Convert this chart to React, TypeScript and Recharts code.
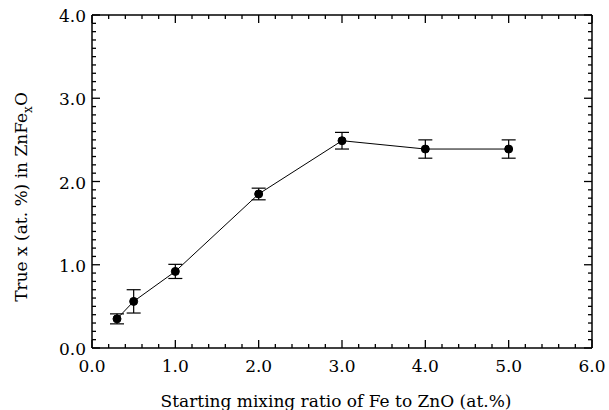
import React from 'react';
import { ComposedChart, Line, XAxis, YAxis, ErrorBar } from 'recharts';

// Data
const mixingRatio = [0.3, 0.5, 1.0, 2.0, 3.0, 4.0, 5.0];
const trueX = [0.35, 0.56, 0.92, 1.85, 2.49, 2.39, 2.39];
const trueXError = [0.06, 0.14, 0.085, 0.07, 0.1, 0.11, 0.11];

const xMajorLabels = ['0.0', '1.0', '2.0', '3.0', '4.0', '5.0', '6.0'];
const yMajorLabels = ['0.0', '1.0', '2.0', '3.0', '4.0'];

const xTicks = Array.from({ length: 31 }, (_, i) => Math.round(i * 2) / 10);
const yTicks = Array.from({ length: 41 }, (_, i) => i / 10);

const data = mixingRatio.map((x, i) => ({ x, y: trueX[i], err: trueXError[i] }));

const FONT = "'DejaVu Serif', 'Liberation Serif', serif";
const MAJOR = 8;
const MINOR = 4;

const isMajor = (v: number) => Math.abs(v - Math.round(v)) < 1e-6;

const textStyle = { fontFamily: FONT, fontSize: 17, fill: '#000' };

const BottomTick = (props: any) => {
  const { x, y, payload } = props;
  const v = payload.value;
  const major = isMajor(v);
  return (
    <g>
      <line x1={x} x2={x} y1={y} y2={y - (major ? MAJOR : MINOR)} stroke="#000" strokeWidth={1.3} />
      {major && (
        <text x={x} y={y + 24} textAnchor="middle" style={textStyle}>
          {xMajorLabels[Math.round(v)]}
        </text>
      )}
    </g>
  );
};

const TopTick = (props: any) => {
  const { x, y, payload } = props;
  const major = isMajor(payload.value);
  return <line x1={x} x2={x} y1={y} y2={y + (major ? MAJOR : MINOR)} stroke="#000" strokeWidth={1.3} />;
};

const LeftTick = (props: any) => {
  const { x, y, payload } = props;
  const v = payload.value;
  const major = isMajor(v);
  return (
    <g>
      <line x1={x} x2={x + (major ? MAJOR : MINOR)} y1={y} y2={y} stroke="#000" strokeWidth={1.3} />
      {major && (
        <text x={x - 6} y={y + 7} textAnchor="end" style={textStyle}>
          {yMajorLabels[Math.round(v)]}
        </text>
      )}
    </g>
  );
};

const RightTick = (props: any) => {
  const { x, y, payload } = props;
  const major = isMajor(payload.value);
  return <line x1={x} x2={x - (major ? MAJOR : MINOR)} y1={y} y2={y} stroke="#000" strokeWidth={1.3} />;
};

const XLabel = () => (
  <text x={336} y={407} textAnchor="middle" style={textStyle}>
    Starting mixing ratio of Fe to ZnO (at.%)
  </text>
);

const YLabel = () => (
  <text x={-197} y={27} transform="rotate(-90)" textAnchor="middle" style={textStyle}>
    True x (at. %) in ZnFe
    <tspan dy={5} fontSize={12}>x</tspan>
    <tspan dy={-5}>O</tspan>
  </text>
);

export default function App() {
  return (
    <div style={{ position: 'absolute', left: 0, top: 0, background: '#fff' }}>
      <ComposedChart
        width={609}
        height={410}
        data={data}
        margin={{ top: 14, right: 16, bottom: 0, left: 0 }}
      >
        <XAxis
          dataKey="x"
          type="number"
          domain={[0, 6]}
          ticks={xTicks}
          interval={0}
          height={62}
          tickLine={false}
          tickSize={0}
          tickMargin={0}
          tick={<BottomTick />}
          axisLine={{ stroke: '#000', strokeWidth: 1.5 }}
          allowDataOverflow
          label={{ content: <XLabel /> }}
        />
        <XAxis
          xAxisId="top"
          orientation="top"
          dataKey="x"
          type="number"
          domain={[0, 6]}
          ticks={xTicks}
          interval={0}
          height={1}
          tickLine={false}
          tickSize={0}
          tickMargin={0}
          tick={<TopTick />}
          axisLine={{ stroke: '#000', strokeWidth: 1.5 }}
          allowDataOverflow
        />
        <YAxis
          type="number"
          domain={[0, 4]}
          ticks={yTicks}
          interval={0}
          width={92}
          tickLine={false}
          tickSize={0}
          tickMargin={0}
          tick={<LeftTick />}
          axisLine={{ stroke: '#000', strokeWidth: 1.5 }}
          allowDataOverflow
          label={{ content: <YLabel /> }}
        />
        <YAxis
          yAxisId="right"
          orientation="right"
          type="number"
          domain={[0, 4]}
          ticks={yTicks}
          interval={0}
          width={1}
          tickLine={false}
          tickSize={0}
          tickMargin={0}
          tick={<RightTick />}
          axisLine={{ stroke: '#000', strokeWidth: 1.5 }}
          allowDataOverflow
        />
        <Line
          xAxisId="top"
          yAxisId="right"
          type="linear"
          dataKey="y"
          stroke="none"
          dot={false}
          activeDot={false}
          legendType="none"
          isAnimationActive={false}
        />
        <Line
          type="linear"
          dataKey="y"
          stroke="#000"
          strokeWidth={1}
          dot={{ r: 4, fill: '#000', stroke: '#000', strokeWidth: 1 }}
          isAnimationActive={false}
        >
          <ErrorBar dataKey="err" width={7} stroke="#000" strokeWidth={1.2} direction="y" />
        </Line>
      </ComposedChart>
    </div>
  );
}
